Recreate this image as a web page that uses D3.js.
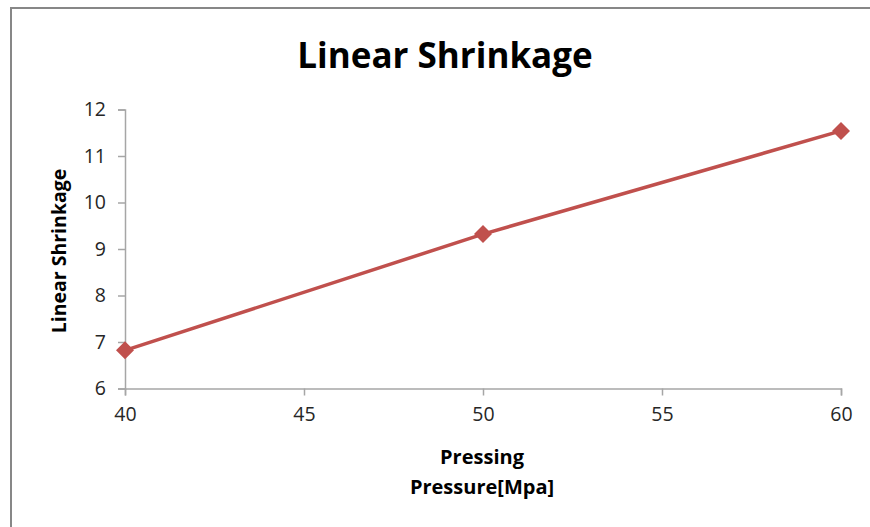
<!DOCTYPE html>
<html>
<head>
<meta charset="utf-8">
<script src="https://cdn.jsdelivr.net/npm/d3@7"></script>
<style>
  html, body { margin: 0; padding: 0; background: #fff; }
  svg { display: block; }
  text { font-family: "Open Sans", Lato, sans-serif; }
</style>
</head>
<body>
<svg id="chart" width="870" height="527"></svg>
<script>
// Pressing pressure (MPa) vs. linear shrinkage
const pressures = [40, 50, 60];
const shrinkage = [6.82, 9.32, 11.54];
const xTicks = [40, 45, 50, 55, 60];
const yTicks = [6, 7, 8, 9, 10, 11, 12];

const W = 870, H = 527;
const margin = { left: 125, right: 29, top: 109.5, bottom: 138.5 };

const svg = d3.select("#chart");

// outer chart frame
svg.append("rect")
  .attr("x", 11).attr("y", 8)
  .attr("width", W + 20).attr("height", H + 20)
  .attr("fill", "#fff")
  .attr("stroke", "#878787").attr("stroke-width", 2);

const x = d3.scaleLinear().domain([40, 60]).range([margin.left, W - margin.right]);
const y = d3.scaleLinear().domain([6, 12]).range([H - margin.bottom, margin.top]);

const axisColor = "#a6a6a6";
const labelColor = "#262626";

// y axis
const gy = svg.append("g")
  .attr("transform", `translate(${margin.left},0)`)
  .call(d3.axisLeft(y).tickValues(yTicks).tickSize(7).tickPadding(12).tickFormat(d3.format("d")));

// x axis
const gx = svg.append("g")
  .attr("transform", `translate(0,${y(6)})`)
  .call(d3.axisBottom(x).tickValues(xTicks).tickSize(7).tickPadding(12).tickFormat(d3.format("d")));

[gx, gy].forEach(g => {
  g.select(".domain").attr("stroke", axisColor).attr("stroke-width", 1.5);
  g.selectAll(".tick line").attr("stroke", axisColor).attr("stroke-width", 1.5);
  g.selectAll(".tick text")
    .attr("fill", labelColor)
    .style("font-size", "19.5px");
});

// series line
const pts = pressures.map((p, i) => [p, shrinkage[i]]);
svg.append("path")
  .datum(pts)
  .attr("fill", "none")
  .attr("stroke", "#c0504d")
  .attr("stroke-width", 3.5)
  .attr("d", d3.line().x(d => x(d[0])).y(d => y(d[1])));

// diamond markers
svg.selectAll(".marker")
  .data(pts)
  .join("path")
  .attr("class", "marker")
  .attr("transform", d => `translate(${x(d[0])},${y(d[1])})`)
  .attr("d", "M0,-9L9,0L0,9L-9,0Z")
  .attr("fill", "#c0504d");

// title
svg.append("text")
  .attr("x", 445).attr("y", 68)
  .attr("text-anchor", "middle")
  .attr("fill", "#000")
  .style("font-size", "35px")
  .style("font-weight", "bold")
  .text("Linear Shrinkage");

// y axis title
svg.append("text")
  .attr("transform", `translate(66,${(y(6) + y(12)) / 2 + 2}) rotate(-90)`)
  .attr("text-anchor", "middle")
  .attr("fill", "#000")
  .style("font-size", "19.5px")
  .style("font-weight", "bold")
  .text("Linear Shrinkage");

// x axis title (two lines)
const xt = svg.append("text")
  .attr("text-anchor", "middle")
  .attr("fill", "#000")
  .style("font-size", "20px")
  .style("font-weight", "bold");
xt.append("tspan").attr("x", 482).attr("y", 464).text("Pressing");
xt.append("tspan").attr("x", 482).attr("y", 494).text("Pressure[Mpa]");
</script>
</body>
</html>
